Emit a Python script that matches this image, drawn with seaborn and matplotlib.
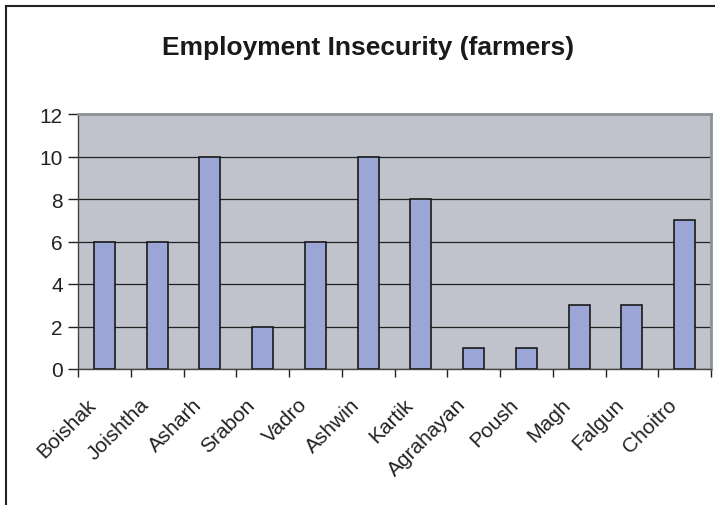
import matplotlib
matplotlib.use("Agg")
import matplotlib.pyplot as plt
import matplotlib.transforms as mtransforms
import seaborn as sns
import pandas as pd
from matplotlib.patches import Rectangle

months = ["Boishak", "Joishtha", "Asharh", "Srabon", "Vadro", "Ashwin",
          "Kartik", "Agrahayan", "Poush", "Magh", "Falgun", "Choitro"]
counts = [6, 6, 10, 2, 6, 10, 8, 1, 1, 3, 3, 7]
y_ticks = [0, 2, 4, 6, 8, 10, 12]

df = pd.DataFrame({"month": months, "count": counts})

sns.set_theme(style="white")
plt.rcParams["font.family"] = ["Liberation Sans", "DejaVu Sans"]

fig = plt.figure(figsize=(7.15, 5.06), dpi=100)
ax = fig.add_axes([78 / 715, 1 - 370 / 506, (711 - 78) / 715, (370 - 115) / 506])

sns.barplot(data=df, x="month", y="count", ax=ax, color="#9BA5D6",
            saturation=1, width=0.4, edgecolor="#1a1a1a", linewidth=1.2, zorder=3)

ax.set_facecolor("#C0C3CB")
ax.set_ylim(0, 12)
ax.set_xlim(-0.5, len(months) - 0.5)
ax.set_yticks(y_ticks)
ax.yaxis.grid(True, color="#222222", linewidth=0.9, zorder=1)
ax.set_axisbelow(True)
ax.set_xlabel("")
ax.set_ylabel("")

for side in ["top", "right"]:
    ax.spines[side].set_color("#8C9196")
    ax.spines[side].set_linewidth(2)
for side in ["left", "bottom"]:
    ax.spines[side].set_color("#444444")
    ax.spines[side].set_linewidth(1)

# category ticks sit on the boundaries between bars
ax.set_xticks([i - 0.5 for i in range(len(months) + 1)])
ax.set_xticklabels([""] * (len(months) + 1))
ax.tick_params(axis="x", length=6, width=1, color="#222222",
               direction="out", bottom=True)
ax.tick_params(axis="y", length=7, width=1, color="#222222", direction="out",
               left=True, labelsize=15, labelcolor="#222222", pad=4)

# slanted category names under each bar
label_tf = ax.get_xaxis_transform() + mtransforms.ScaledTranslation(
    -0.11, -0.32, fig.dpi_scale_trans)
for i, name in enumerate(months):
    ax.text(i, 0, name, transform=label_tf, rotation=45, ha="right",
            va="center", rotation_mode="anchor", fontsize=15, color="#222222",
            clip_on=False)

fig.text(368 / 715, 1 - 55 / 506, "Employment Insecurity (farmers)",
         ha="center", va="baseline", fontsize=19, fontweight="bold",
         color="#1a1a1a")

# chart frame
fig.add_artist(Rectangle((6 / 715, -0.05), 1.2, 1 - 7 / 506 + 0.05,
                         transform=fig.transFigure, fill=False,
                         edgecolor="#222222", linewidth=1.5))

fig.savefig("out.png", dpi=100)
